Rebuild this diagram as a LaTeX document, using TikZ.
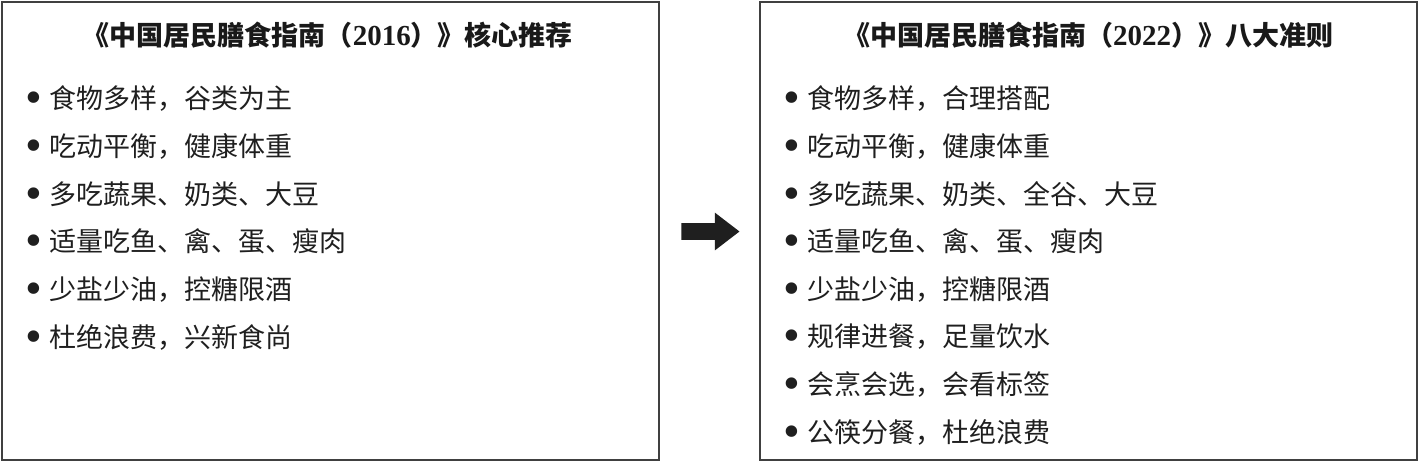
\documentclass[tikz,border=0pt]{standalone}
\usepackage{fontspec}
\setmainfont{Noto Sans CJK SC}
\newfontfamily\numfont{Liberation Serif}
\usepackage{tikz}
\usetikzlibrary{shapes.arrows, positioning, calc}
\tikzset{
  panel/.style={draw=black!75, line width=1pt, inner sep=0pt,
                minimum width=328.5pt, minimum height=229pt},
  headT/.style={inner sep=0pt, text=black!90,
                font=\fontsize{13.5pt}{16pt}\selectfont\bfseries},
  entry/.style={anchor=west, inner sep=0pt, text=black!88,
                font=\fontsize{13.5pt}{16pt}\selectfont},
  bigArrow/.style={single arrow, fill=black!88,
                   inner xsep=0pt, inner ysep=4pt,
                   minimum height=29pt,
                   single arrow head extend=5.25pt,
                   single arrow tip angle=75},
}
\newcommand\dotmark{{\numfont\fontsize{24pt}{24pt}\selectfont\raisebox{-2.5pt}{\textbullet}}\hspace{3.5pt}}
\newcommand\yr[1]{{\numfont\bfseries\fontsize{14.5pt}{16pt}\selectfont #1}}

\begin{document}
\begin{tikzpicture}[x=0.5pt, y=-0.5pt]
    \useasboundingbox (0,0) rectangle (1420,463);
    %% 2016 panel
    \node[panel] (old) at (330.5,231.3) {};
    \node[headT] (oldT) at (328,35) {《中国居民膳食指南（\yr{2016}）》核心推荐};
    \node[entry] (o1) at (25,100)   {\dotmark 食物多样，谷类为主};
    \node[entry] (o2) at (25,147.6) {\dotmark 吃动平衡，健康体重};
    \node[entry] (o3) at (25,195.2) {\dotmark 多吃蔬果、奶类、大豆};
    \node[entry] (o4) at (25,242.8) {\dotmark 适量吃鱼、禽、蛋、瘦肉};
    \node[entry] (o5) at (25,290.4) {\dotmark 少盐少油，控糖限酒};
    \node[entry] (o6) at (25,338)   {\dotmark 杜绝浪费，兴新食尚};
    %% arrow
    \node[bigArrow] (arr) at (705,231.5) {};
    %% 2022 panel
    \node[panel] (new) at (1088,231.3) {};
    \node[headT] (newT) at (1088,35) {《中国居民膳食指南（\yr{2022}）》八大准则};
    \node[entry] (n1) at (783,100)   {\dotmark 食物多样，合理搭配};
    \node[entry] (n2) at (783,147.6) {\dotmark 吃动平衡，健康体重};
    \node[entry] (n3) at (783,195.2) {\dotmark 多吃蔬果、奶类、全谷、大豆};
    \node[entry] (n4) at (783,242.8) {\dotmark 适量吃鱼、禽、蛋、瘦肉};
    \node[entry] (n5) at (783,290.4) {\dotmark 少盐少油，控糖限酒};
    \node[entry] (n6) at (783,338)   {\dotmark 规律进餐，足量饮水};
    \node[entry] (n7) at (783,385.6) {\dotmark 会烹会选，会看标签};
    \node[entry] (n8) at (783,433.2) {\dotmark 公筷分餐，杜绝浪费};
\end{tikzpicture}
\end{document}
